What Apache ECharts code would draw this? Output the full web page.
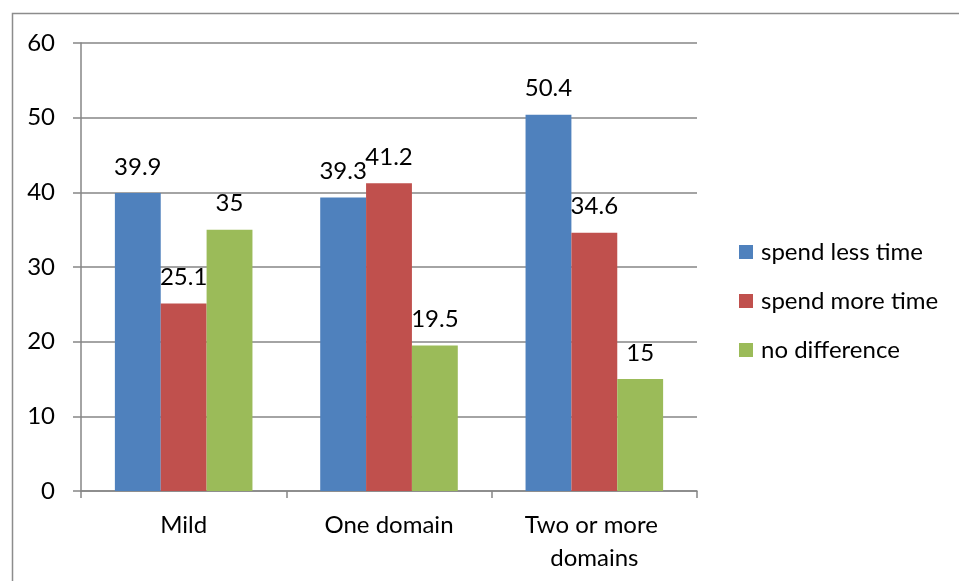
<!DOCTYPE html>
<html>
<head>
<meta charset="utf-8">
<script src="https://cdn.jsdelivr.net/npm/echarts@6/dist/echarts.min.js"></script>
<style>
html,body{margin:0;padding:0;background:#fff;}
#c{width:959px;height:581px;}
</style>
</head>
<body>
<div id="c"></div>
<script>
var categories = ['Mild', 'One domain', 'Two or more domains'];
var seriesNames = ['spend less time', 'spend more time', 'no difference'];
var spendLess = [39.9, 39.3, 50.4];
var spendMore = [25.1, 41.2, 34.6];
var noDiff = [35, 19.5, 15];
var yTicks = [0, 10, 20, 30, 40, 50, 60];

var colors = ['#4F81BD', '#C0504D', '#9BBB59'];
var FONT = 'Lato';
var FS = 24;
var grey = '#868686';

function mkSeries(name, data, color) {
  return {
    name: name,
    type: 'bar',
    data: data,
    barGap: '0%',
    barCategoryGap: '33%',
    itemStyle: { color: color },
    label: {
      show: true,
      position: 'top',
      distance: 14,
      color: '#000',
      fontFamily: FONT,
      fontSize: FS
    }
  };
}

var chart = echarts.init(document.getElementById('c'), null, { renderer: 'canvas' });
chart.setOption({
  animation: false,
  backgroundColor: '#fff',
  textStyle: { fontFamily: FONT },
  graphic: [{
    type: 'rect',
    shape: { x: 12.5, y: 13.5, width: 1000, height: 1000 },
    style: { fill: 'none', stroke: '#8c8c8c', lineWidth: 1.5 },
    silent: true
  }],
  grid: { left: 81, right: 262, top: 43, bottom: 90, containLabel: false },
  legend: {
    orient: 'vertical',
    left: 734,
    top: 235,
    itemWidth: 14,
    itemHeight: 14,
    itemGap: 25,
    icon: 'rect',
    textStyle: { fontFamily: FONT, fontSize: FS, color: '#000', padding: [0, 0, 0, 3] },
    data: seriesNames
  },
  xAxis: {
    type: 'category',
    data: categories,
    axisLine: { show: true, lineStyle: { color: grey, width: 1.5 } },
    axisTick: { show: true, length: 7, alignWithLabel: false, lineStyle: { color: grey, width: 1.5 } },
    axisLabel: {
      color: '#000', fontFamily: FONT, fontSize: FS, margin: 18,
      width: 180, overflow: 'break', lineHeight: 33, interval: 0
    }
  },
  yAxis: {
    type: 'value',
    min: yTicks[0],
    max: yTicks[yTicks.length - 1],
    interval: 10,
    axisLine: { show: true, lineStyle: { color: grey, width: 1.5 } },
    axisTick: { show: true, length: 8, lineStyle: { color: grey, width: 1.5 } },
    splitLine: { show: true, lineStyle: { color: grey, width: 1.5 } },
    axisLabel: { color: '#000', fontFamily: FONT, fontSize: FS, margin: 26 }
  },
  series: [
    mkSeries(seriesNames[0], spendLess, colors[0]),
    mkSeries(seriesNames[1], spendMore, colors[1]),
    mkSeries(seriesNames[2], noDiff, colors[2])
  ]
});
</script>
</body>
</html>
